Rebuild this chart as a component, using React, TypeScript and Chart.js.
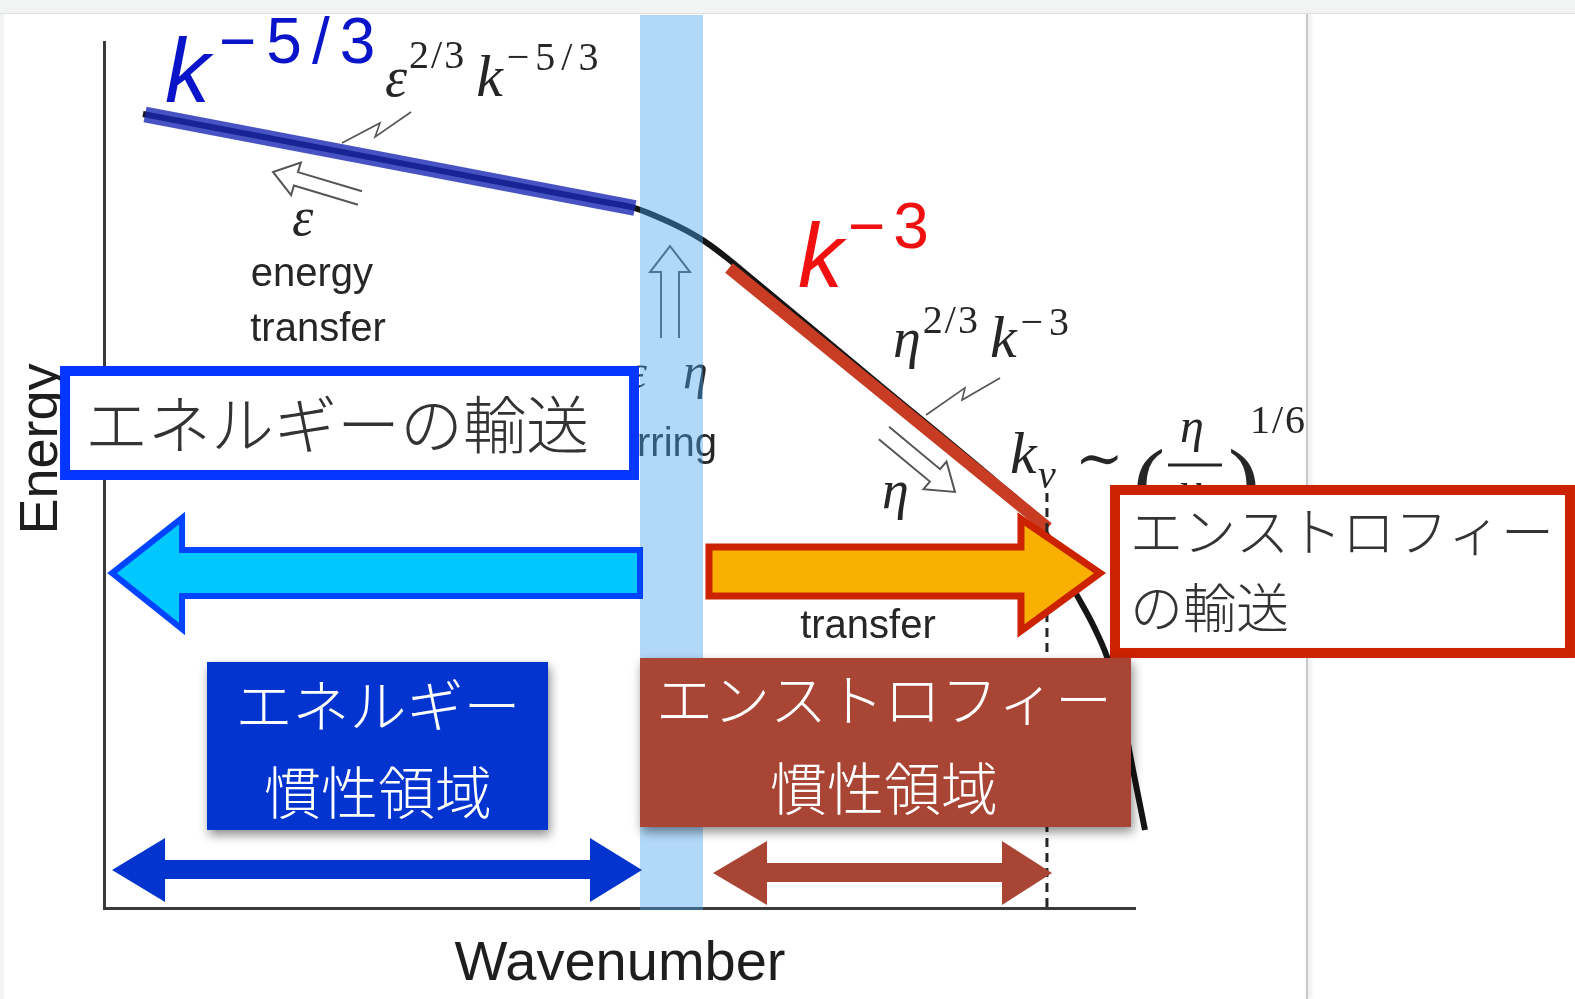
import React, { useEffect, useRef } from "react";
import { Chart, registerables } from "chart.js";

Chart.register(...registerables);

const SERIF = '"Liberation Serif", "DejaVu Serif", serif';
const SANS = '"Liberation Sans", Arial, Helvetica, sans-serif';
const CJK = '"Noto Sans CJK JP", "Noto Sans CJK SC", sans-serif';

// ---------- data (log wavenumber, log energy; arbitrary units) ----------
const spectrumLogK = [0.378, 2.774, 4.811, 5.15, 5.461, 5.655, 5.849, 6.043, 6.266, 7.478, 8.691, 8.933, 9.176, 9.399, 9.593, 9.729, 9.855, 9.971, 10.097];
const spectrumLogE = [9.169, 8.624, 8.161, 8.083, 7.933, 7.818, 7.679, 7.506, 7.286, 6.085, 4.885, 4.631, 4.249, 3.695, 3.268, 2.898, 2.367, 1.651, 0.901];
const energyRangeLogK = [0.398, 5.15];
const energyRangeLogE = [9.163, 8.083];
const enstrophyRangeLogK = [6.062, 9.156];
const enstrophyRangeLogE = [7.39, 4.388];
const stirringBandK = [5.199, 5.81];
const dissipationK = 9.146;

const axisTitles = ["Energy", "Wavenumber"];
const energyTransferLabel = "エネルギーの輸送";
const enstrophyTransferLabel = ["エンストロフィー", "の輸送"];
const energyRangeLabel = ["エネルギー", "慣性領域"];
const enstrophyRangeLabel = ["エンストロフィー", "慣性領域"];
const figureWords = ["energy", "transfer", "stirring", "transfer"];

const pts = (xs: number[], ys: number[]) => xs.map((x, i) => ({ x, y: ys[i] }));

type Run = { t: string; size: number; italic?: boolean; dx?: number; dy?: number; ls?: number; family?: string };

function drawRuns(ctx: CanvasRenderingContext2D, x: number, y: number, runs: Run[]) {
  let cx = x;
  for (const r of runs) {
    cx += r.dx || 0;
    ctx.font = `${r.italic ? "italic " : ""}${r.size}px ${r.family || SERIF}`;
    (ctx as any).letterSpacing = `${r.ls || 0}px`;
    ctx.fillText(r.t, cx, y + (r.dy || 0));
    cx += ctx.measureText(r.t).width;
  }
  (ctx as any).letterSpacing = "0px";
}

function hollowArrow(ctx: CanvasRenderingContext2D, tx: number, ty: number, px: number, py: number, gap: number, half: number, len: number) {
  const dx = px - tx, dy = py - ty;
  const d = Math.hypot(dx, dy);
  const ux = dx / d, uy = dy / d;
  const nx = -uy, ny = ux;
  const bx = px - ux * len, by = py - uy * len;
  ctx.beginPath();
  ctx.moveTo(tx + nx * gap, ty + ny * gap);
  ctx.lineTo(bx + nx * gap, by + ny * gap);
  ctx.lineTo(bx + nx * half, by + ny * half);
  ctx.lineTo(px, py);
  ctx.lineTo(bx - nx * half, by - ny * half);
  ctx.lineTo(bx - nx * gap, by - ny * gap);
  ctx.lineTo(tx - nx * gap, ty - ny * gap);
  ctx.stroke();
}

const overlayPlugin = {
  id: "overlay",
  afterDatasetsDraw(chart: any) {
    const ctx: CanvasRenderingContext2D = chart.ctx;
    const X = (v: number) => chart.scales.x.getPixelForValue(v);
    const Y = (v: number) => chart.scales.y.getPixelForValue(v);
    ctx.save();
    ctx.textBaseline = "alphabetic";

    // ----- original figure annotations (gray) -----
    ctx.save();
    ctx.filter = "blur(0.5px)";
    ctx.fillStyle = "#262626";
    ctx.strokeStyle = "#262626";

    // dashed k_nu line
    ctx.save();
    ctx.setLineDash([9, 6]);
    ctx.lineWidth = 3;
    ctx.beginPath();
    ctx.moveTo(X(dissipationK), Y(4.792));
    ctx.lineTo(X(dissipationK), Y(0));
    ctx.stroke();
    ctx.restore();

    drawRuns(ctx, X(2.725), Y(9.376), [
      { t: "ε", size: 56, italic: true },
      { t: "2/3", size: 40, dy: -28, dx: 2, ls: 2 },
      { t: "k", size: 60, italic: true, dx: 10 },
      { t: "−5/3", size: 40, dy: -26, dx: 4, ls: 6 },
    ]);
    drawRuns(ctx, X(1.823), Y(7.771), [{ t: "ε", size: 54, italic: true }]);
    drawRuns(ctx, X(5.082), Y(6.005), [{ t: "ε", size: 48, italic: true }]);
    drawRuns(ctx, X(5.616), Y(6.005), [{ t: "η", size: 50, italic: true }]);
    drawRuns(ctx, X(7.653), Y(6.363), [
      { t: "η", size: 56, italic: true },
      { t: "2/3", size: 40, dy: -24, dx: 2, ls: 2 },
      { t: "k", size: 60, italic: true, dx: 10 },
      { t: "−3", size: 40, dy: -22, dx: 4, ls: 6 },
    ]);
    drawRuns(ctx, X(7.546), Y(4.619), [{ t: "η", size: 54, italic: true }]);
    // k_nu ~ (eta/nu)^{1/6}
    drawRuns(ctx, X(8.788), Y(5.023), [{ t: "k", size: 60, italic: true }]);
    drawRuns(ctx, X(9.06), Y(4.85), [{ t: "ν", size: 40, italic: true }]);
    drawRuns(ctx, X(9.418), Y(4.965), [{ t: "∼", size: 58 }]);
    drawRuns(ctx, X(9.981), Y(4.538), [{ t: "(", size: 96 }]);
    drawRuns(ctx, X(10.437), Y(5.381), [{ t: "η", size: 48, italic: true }]);
    drawRuns(ctx, X(10.437), Y(4.654), [{ t: "ν", size: 48, italic: true }]);
    drawRuns(ctx, X(10.902), Y(4.538), [{ t: ")", size: 96 }]);
    drawRuns(ctx, X(11.115), Y(5.485), [{ t: "1/6", size: 40, ls: 2 }]);
    ctx.lineWidth = 3;
    ctx.beginPath();
    ctx.moveTo(X(10.32), Y(5.116));
    ctx.lineTo(X(10.844), Y(5.116));
    ctx.stroke();

    // words
    ctx.font = `40px ${SANS}`;
    ctx.textAlign = "center";
    ctx.fillText(figureWords[0], X(2.017), Y(7.182));
    ctx.fillText(figureWords[1], X(2.076), Y(6.547));
    ctx.fillText(figureWords[3], X(7.41), Y(3.118));
    ctx.textAlign = "left";
    ctx.fillText(figureWords[2], X(4.782), Y(5.219));

    // hollow arrows & zigzags
    ctx.strokeStyle = "#555";
    ctx.lineWidth = 2;
    ctx.lineJoin = "miter";
    hollowArrow(ctx, X(2.483), Y(8.199), X(1.639), Y(8.499), 7, 17, 24);
    hollowArrow(ctx, X(5.49), Y(6.582), X(5.49), Y(7.644), 9, 20, 26);
    hollowArrow(ctx, X(7.565), Y(5.485), X(8.254), Y(4.804), 8, 18, 26);
    const zig = (p: number[][]) => {
      ctx.beginPath();
      ctx.moveTo(X(p[0][0]), Y(p[0][1]));
      for (let i = 1; i < p.length; i++) ctx.lineTo(X(p[i][0]), Y(p[i][1]));
      ctx.stroke();
    };
    ctx.lineWidth = 1.6;
    zig([[2.308, 8.834], [2.677, 9.065], [2.629, 8.903], [2.978, 9.192]]);
    zig([[7.973, 5.693], [8.351, 6.005], [8.322, 5.866], [8.691, 6.12]]);
    ctx.restore();

    // axis titles
    ctx.fillStyle = "#1e1e1e";
    ctx.font = `54px ${SANS}`;
    ctx.save();
    ctx.translate(X(-0.456), Y(5.3));
    ctx.rotate(-Math.PI / 2);
    ctx.textAlign = "center";
    ctx.fillText(axisTitles[0], 0, 0);
    ctx.restore();
    ctx.textAlign = "center";
    ctx.font = `56px ${SANS}`;
    ctx.fillText(axisTitles[1], X(5.005), Y(-0.831));
    ctx.textAlign = "left";

    // ----- stirring band -----
    ctx.fillStyle = "rgba(70,160,240,0.42)";
    ctx.fillRect(X(stirringBandK[0]), Y(10.312), X(stirringBandK[1]) - X(stirringBandK[0]), Y(-0.023) - Y(10.312));

    // ----- outline boxes -----
    const outlineBox = (x0: number, x1: number, y0: number, y1: number, color: string, lw: number) => {
      const l = X(x0), r = X(x1), t = Y(y0), b = Y(y1);
      ctx.fillStyle = "#ffffff";
      ctx.fillRect(l, t, r - l, b - t);
      ctx.strokeStyle = color;
      ctx.lineWidth = lw;
      ctx.strokeRect(l, t, r - l, b - t);
    };
    outlineBox(-0.378, 5.141, 6.201, 5.0, "#0536ff", 10);
    outlineBox(9.806, 14.219, 4.827, 2.945, "#cc2200", 10);
    ctx.fillStyle = "#333333";
    ctx.textBaseline = "middle";
    ctx.font = `300 63px ${CJK}`;
    ctx.fillText(energyTransferLabel, X(-0.184), Y(5.589));
    ctx.font = `300 53px ${CJK}`;
    ctx.fillText(enstrophyTransferLabel[0], X(9.951), Y(4.342));
    ctx.fillText(enstrophyTransferLabel[1], X(9.951), Y(3.464));

    // ----- block arrows -----
    ctx.lineJoin = "miter";
    // energy (left)
    ctx.beginPath();
    ctx.moveTo(X(0.078), Y(3.868));
    ctx.lineTo(X(0.757), Y(4.503));
    ctx.lineTo(X(0.757), Y(4.134));
    ctx.lineTo(X(5.199), Y(4.134));
    ctx.lineTo(X(5.199), Y(3.603));
    ctx.lineTo(X(0.757), Y(3.603));
    ctx.lineTo(X(0.757), Y(3.222));
    ctx.closePath();
    ctx.fillStyle = "#00c8ff";
    ctx.fill();
    ctx.strokeStyle = "#0044ff";
    ctx.lineWidth = 6;
    ctx.stroke();
    // enstrophy (right)
    ctx.beginPath();
    ctx.moveTo(X(9.661), Y(3.868));
    ctx.lineTo(X(8.894), Y(4.492));
    ctx.lineTo(X(8.894), Y(4.169));
    ctx.lineTo(X(5.868), Y(4.169));
    ctx.lineTo(X(5.868), Y(3.603));
    ctx.lineTo(X(8.894), Y(3.603));
    ctx.lineTo(X(8.894), Y(3.199));
    ctx.closePath();
    ctx.fillStyle = "#f9b000";
    ctx.fill();
    ctx.strokeStyle = "#cc2200";
    ctx.lineWidth = 7;
    ctx.stroke();

    // ----- filled boxes -----
    const filledBox = (x0: number, x1: number, y0: number, y1: number, color: string) => {
      const l = X(x0), r = X(x1), t = Y(y0), b = Y(y1);
      ctx.save();
      ctx.shadowColor = "rgba(0,0,0,0.45)";
      ctx.shadowBlur = 10;
      ctx.shadowOffsetX = 2;
      ctx.shadowOffsetY = 5;
      ctx.fillStyle = color;
      ctx.fillRect(l, t, r - l, b - t);
      ctx.restore();
    };
    filledBox(0.999, 4.307, 2.841, 0.901, "#0334cf");
    filledBox(5.199, 9.961, 2.887, 0.935, "#a94534");
    ctx.fillStyle = "#ffffff";
    ctx.textAlign = "center";
    ctx.font = `300 57px ${CJK}`;
    ctx.fillText(energyRangeLabel[0], X(2.658), Y(2.344));
    ctx.fillText(energyRangeLabel[1], X(2.658), Y(1.339));
    ctx.fillText(enstrophyRangeLabel[0], X(7.566), Y(2.413));
    ctx.fillText(enstrophyRangeLabel[1], X(7.566), Y(1.386));
    ctx.textAlign = "left";
    ctx.textBaseline = "alphabetic";

    // ----- double arrows -----
    const dbl = (tl: number, bl: number, br: number, tr: number, mid: number, st: number, sb: number, ht: number, hb: number, color: string) => {
      ctx.beginPath();
      ctx.moveTo(X(tl), Y(mid));
      ctx.lineTo(X(bl), Y(ht));
      ctx.lineTo(X(bl), Y(st));
      ctx.lineTo(X(br), Y(st));
      ctx.lineTo(X(br), Y(ht));
      ctx.lineTo(X(tr), Y(mid));
      ctx.lineTo(X(br), Y(hb));
      ctx.lineTo(X(br), Y(sb));
      ctx.lineTo(X(bl), Y(sb));
      ctx.lineTo(X(bl), Y(hb));
      ctx.closePath();
      ctx.fillStyle = color;
      ctx.fill();
    };
    dbl(0.078, 0.592, 4.714, 5.218, 0.439, 0.554, 0.335, 0.808, 0.069, "#0334cf");
    dbl(5.907, 6.431, 8.71, 9.195, 0.404, 0.52, 0.3, 0.774, 0.035, "#a94534");

    // ----- coloured power-law labels -----
    ctx.fillStyle = "#0a14c8";
    drawRuns(ctx, X(0.592), Y(9.307), [{ t: "k", size: 90, italic: true, family: SANS }]);
    drawRuns(ctx, X(1.115), Y(9.757), [{ t: "−5/3", size: 64, family: SANS, ls: 10 }]);
    ctx.fillStyle = "#f01010";
    drawRuns(ctx, X(6.731), Y(7.171), [{ t: "k", size: 90, italic: true, family: SANS }]);
    drawRuns(ctx, X(7.216), Y(7.621), [{ t: "−3", size: 64, family: SANS, ls: 8 }]);

    ctx.restore();
  },
};

export default function App() {
  const ref = useRef<HTMLCanvasElement>(null);
  useEffect(() => {
    const chart = new Chart(ref.current as HTMLCanvasElement, {
      type: "scatter",
      data: {
        datasets: [
          {
            label: "energy inertial range",
            data: pts(energyRangeLogK, energyRangeLogE),
            showLine: true,
            borderColor: "rgba(25,40,180,0.8)",
            borderWidth: 16,
            borderCapStyle: "butt",
            pointRadius: 0,
            order: 1,
            clip: false,
          } as any,
          {
            label: "enstrophy inertial range",
            data: pts(enstrophyRangeLogK, enstrophyRangeLogE),
            showLine: true,
            borderColor: "#c83c23",
            borderWidth: 12,
            borderCapStyle: "butt",
            pointRadius: 0,
            order: 2,
            clip: false,
          } as any,
          {
            label: "spectrum",
            data: pts(spectrumLogK, spectrumLogE),
            showLine: true,
            borderColor: "#151515",
            borderWidth: 6,
            cubicInterpolationMode: "monotone",
            pointRadius: 0,
            order: 3,
            clip: false,
          } as any,
        ],
      },
      options: {
        responsive: false,
        devicePixelRatio: 1,
        animation: false,
        events: [],
        layout: { padding: { left: 104, right: 440, top: 42, bottom: 91 } },
        plugins: { legend: { display: false }, tooltip: { enabled: false } },
        scales: {
          x: {
            type: "linear",
            min: 0,
            max: 10,
            ticks: { display: false },
            grid: { display: false, drawTicks: false },
            border: { display: true, color: "#3a3a3a", width: 3 },
          },
          y: {
            type: "linear",
            min: 0,
            max: 10,
            ticks: { display: false },
            grid: { display: false, drawTicks: false },
            border: { display: true, color: "#3a3a3a", width: 3 },
          },
        },
      },
      plugins: [overlayPlugin],
    } as any);
    return () => chart.destroy();
  }, []);

  return (
    <div style={{ position: "absolute", left: 0, top: 0, width: 1575, height: 999, background: "#ffffff", overflow: "hidden" }}>
      <div style={{ position: "absolute", left: 0, top: 0, width: 1575, height: 13, background: "#f2f4f4", borderBottom: "1px solid #e0e2e2" }} />
      <div style={{ position: "absolute", left: 0, top: 14, width: 4, height: 985, background: "#f2f4f4" }} />
      <div style={{ position: "absolute", left: 1306, top: 14, width: 2, height: 985, background: "#c9c9c9", boxShadow: "2px 0 4px rgba(0,0,0,0.18)" }} />
      <canvas ref={ref} width={1575} height={999} style={{ position: "absolute", left: 0, top: 0, width: 1575, height: 999 }} />
    </div>
  );
}
